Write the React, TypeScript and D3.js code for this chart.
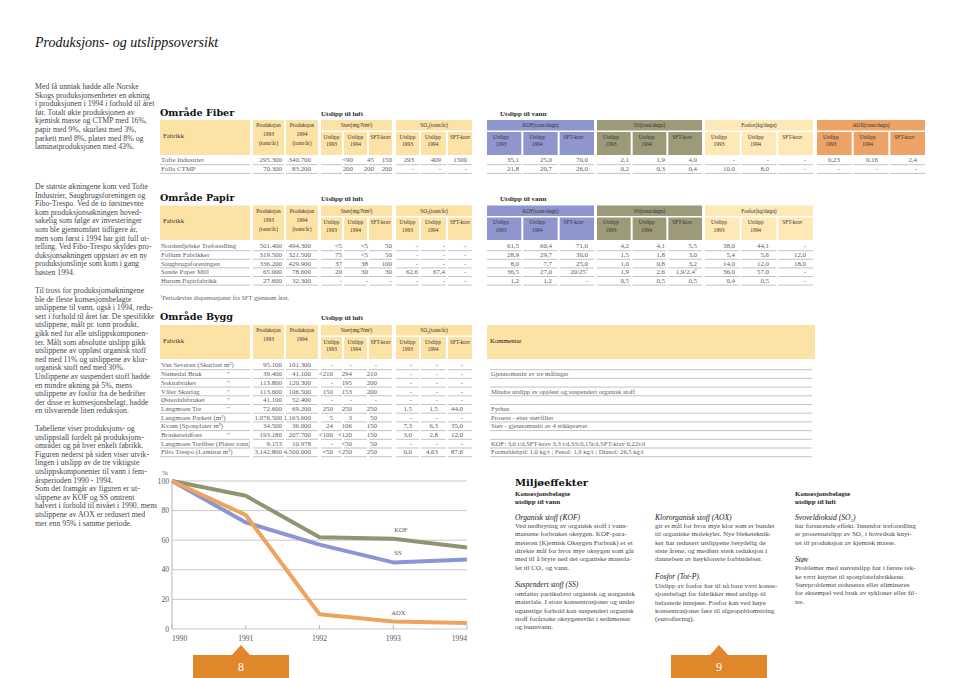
import React from 'react';
import * as d3 from 'd3';

// ---------------- line chart data ----------------
const years = [1990, 1991, 1992, 1993, 1994];
const kofValues = [100, 90, 62, 61, 55];
const ssValues = [100, 72, 57, 45, 47];
const aoxValues = [100, 77, 10, 5, 4];
const yTickValues = [0, 20, 40, 60, 80, 100];
const seriesNames = ['KOF', 'SS', 'AOX'];

// ---------------- table labels ----------------
const airGroupLabels = ['Støv(mg/Nm³)', 'SO₂(tonn/år)'];
const subHeaderLabels = [['Utslipp', '1993'], ['Utslipp', '1994'], ['SFT-krav']];
const waterGroupLabels = ['KOF(tonn/døgn)', 'SS(tonn/døgn)', 'Fosfor(kg/døgn)', 'AOX(tonn/døgn)'];

// ---------------- Område Fiber ----------------
const fiberFactories = ['Tofte Industrier', 'Folla CTMP'];
const fiberProduction = [['295.300', '340.700'], ['70.300', '83.200']];
const fiberAir = [
  ['<90', '45', '150', '293', '409', '1500'],
  ['200', '200', '200', '-', '-', '-'],
];
const fiberWater = [
  ['35,1', '25,0', '70,0', '2,1', '1,9', '4,0', '-', '-', '-', '0,23', '0,16', '2,4'],
  ['21,8', '20,7', '26,0', '0,2', '0,3', '0,4', '10,0', '8,0', '-', '-', '-', '-'],
];

// ---------------- Område Papir ----------------
const paperFactories = ['Nordenfjelske Treforedling', 'Follum Fabrikker', 'Saugbrugsforeningen', 'Sande Paper Mill', 'Hurum Papirfabrikk'];
const paperProduction = [['501.400', '494.300'], ['319.500', '321.500'], ['336.200', '429.900'], ['65.000', '78.600'], ['27.600', '32.300']];
const paperAir = [
  ['<5', '<5', '50', '-', '-', '-'],
  ['75', '<5', '50', '-', '-', '-'],
  ['37', '38', '100', '-', '-', '-'],
  ['20', '30', '30', '62,6', '67,4', '-'],
  ['-', '-', '-', '-', '-', '-'],
];
const paperWater = [
  ['61,5', '60,4', '71,0', '4,2', '4,1', '5,5', '38,0', '44,1', '-'],
  ['28,9', '29,7', '30,0', '1,5', '1,8', '3,0', '5,4', '5,6', '12,0'],
  ['8,0', '7,7', '25,0', '1,0', '0,8', '3,2', '14,0', '12,0', '18,0'],
  ['36,5', '27,0', '20/25¹', '1,9', '2,6', '1,9/2,4¹', '36,0', '57,0', '-'],
  ['1,2', '1,2', '-', '0,5', '0,5', '0,5', '0,4', '0,5', '-'],
];
const paperFootnote = '¹Periodevise dispensasjoner fra SFT gjennom året.';

// ---------------- Område Bygg ----------------
const buildFactories = [
  'Van Severen (Skurlast m³)', 'Numedal Bruk', 'Soknabruket', 'Våler Skurlag', 'Østerdalsbruket', 'Langmoen Tre',
  'Langmoen Parkett (m²)', 'Kvam (Sponplater m³)', 'Braskereidfoss', 'Langmoen Trefiber (Plater tonn)', 'Fibo Trespo (Laminat m²)',
];
const buildDitto = [false, true, true, true, true, true, false, false, true, false, false];
const buildProduction = [
  ['95.100', '101.300'], ['39.400', '41.100'], ['113.800', '120.300'], ['113.600', '106.500'], ['41.100', '52.400'],
  ['72.600', '69.200'], ['1.076.500', '1.163.600'], ['34.500', '36.000'], ['193.180', '207.700'], ['9.153', '10.978'],
  ['3.142.800', '4.500.000'],
];
const buildAir = [
  ['-', '-', '-', '-', '-', '-'],
  ['<210', '294', '210', '-', '-', '-'],
  ['-', '195', '200', '-', '-', '-'],
  ['150', '153', '200', '-', '-', '-'],
  ['-', '-', '-', '-', '-', '-'],
  ['250', '250', '250', '1,5', '1,5', '44,0'],
  ['5', '3', '50', '-', '-', '-'],
  ['24', '106', '150', '7,3', '6,3', '35,0'],
  ['<100', '<120', '150', '3,0', '2,8', '12,0'],
  ['-', '<50', '50', '-', '-', '-'],
  ['<50', '<250', '250', '0,0', '4,63', '87,6'],
];
const buildComments = [
  '', 'Gjennomsnitt av tre målinger', '', 'Mindre utslipp av oppløst og suspendert organisk stoff', '',
  'Fyrhus', 'Prosess - etter støvfilter', 'Støv - gjennomsnitt av 4 stikkprøver', '',
  'KOF: 3,0 t/d,SFT-krav 3,3 t/d,SS:0,15t/d,SFT-krav 0,22t/d', 'Formaldehyd: 1,0 kg/t ; Fenol: 1,9 kg/t ; Dianol: 26,5 kg/t',
];

// ---------------- running text ----------------
const leftParagraphs = [
  ['Med få unntak hadde alle Norske', 'Skogs produksjonsenheter en økning', 'i produksjonen i 1994 i forhold til året',
    'før. Totalt økte produksjonen av', 'kjemisk masse og CTMP med 16%,', 'papir med 9%, skurlast med 3%,',
    'parkett med 8%, plater med 8% og', 'laminatproduksjonen med 43%.'],
  ['De største økningene kom ved Tofte', 'Industrier, Saugbrugsforeningen og', 'Fibo-Trespo. Ved de to førstnevnte',
    'kom produksjonsøkningen hoved-', 'sakelig som følge av investeringer', 'som ble gjennomført tidligere år,',
    'men som først i 1994 har gitt full ut-', 'telling. Ved Fibo-Trespo skyldes pro-', 'duksjonsøkningen oppstart av en ny',
    'produksjonslinje som kom i gang', 'høsten 1994.'],
  ['Til tross for produksjonsøkningene', 'ble de fleste konsesjonsbelagte', 'utslippene til vann, også i 1994, redu-',
    'sert i forhold til året før. De spesifikke', 'utslippene, målt pr. tonn produkt,', 'gikk ned for alle utslippskomponen-',
    'ter. Målt som absolutte utslipp gikk', 'utslippene av oppløst organisk stoff', 'ned med 11% og utslippene av klor-',
    'organisk stoff ned med 30%.', 'Utslippene av suspendert stoff hadde', 'en mindre økning på 5%, mens',
    'utslippene av fosfor fra de bedrifter', 'der disse er konsesjonsbelagt, hadde', 'en tilsvarende liten reduksjon.'],
  ['Tabellene viser produksjons- og', 'utslippstall fordelt på produksjons-', 'områder og på hver enkelt fabrikk.',
    'Figuren nederst på siden viser utvik-', 'lingen i utslipp av de tre viktigste', 'utslippskomponenter til vann i fem-',
    'årsperioden 1990 - 1994.', 'Som det framgår av figuren er ut-', 'slippene av KOF og SS omtrent',
    'halvert i forhold til nivået i 1990, mens', 'utslippene av AOX er redusert med', 'mer enn 95% i samme periode.'],
];
const kofText = ['Ved nedbryting av organisk stoff i vann-', 'massene forbrukes oksygen. KOF-para-', 'meteren (Kjemisk Oksygen Forbruk) er et',
  'direkte mål for hvor mye oksygen som går', 'med til å bryte ned det organiske materia-', 'let til CO₂ og vann.'];
const ssText = ['omfatter partikulært organisk og uorganisk', 'materiale. I store konsentrasjoner og under', 'ugunstige forhold kan suspendert organisk',
  'stoff forårsake oksygensvikt i sedimenter', 'og bunnvann.'];
const aoxText = ['gir et mål for hvor mye klor som er bundet', 'til organiske molekyler. Nye bleketeknik-', 'ker har redusert utslippene betydelig de',
  'siste årene, og medført sterk reduksjon i', 'dannelsen av høyklorerte forbindelser.'];
const fosforText = ['Utslipp av fosfor har til nå bare vært konse-', 'sjonsbelagt for fabrikker med utslipp til', 'belastede innsjøer. Fosfor kan ved høye',
  'konsentrasjoner føre til algeoppblomstring', '(eutrofiering).'];
const so2Text = ['har forsurende effekt. Innenfor treforedling', 'er prosessutslipp av SO₂ i hovedsak knyt-', 'tet til produksjon av kjemisk masse.'];
const stovText = ['Problemer med støvutslipp har i første rek-', 'ke vært knyttet til sponplatefabrikkene.', 'Støvproblemet reduseres eller elimineres',
  'for eksempel ved bruk av sykloner eller fil-', 'tre.'];

// ---------------- style ----------------
const SERIF = "'Liberation Serif', 'Times New Roman', serif";
const SLAB = "'DejaVu Serif', serif";
const TXT = '#474747';
const VAL = '#5e5e5e';
const C_BEIGE = '#fde2a5';
const C_FOS = '#fee8b6';
const WATER_COLORS = ['#8f96cd', '#9c9a79', C_FOS, '#eea366'];
const LINE_COLORS = ['#8f9473', '#8b94d4', '#eea35e'];
const ORANGE = '#e0872b';

const FAB: [number, number] = [160, 250];
const PROD: [number, number][] = [[253, 284], [286, 318]];
const PROD_RIGHT = [282, 311];
const AIR: [number, number][] = [[321, 342], [344, 367], [369, 392], [396, 419], [421, 446], [448, 472]];
const AIR_GROUPS: [number, number][] = [[321, 392], [396, 472]];
const WATER_GROUPS: [number, number][] = [[487, 594], [597, 702], [705, 813], [817, 925]];
const WATER_RIGHT = [519, 552, 588, 629, 665, 697, 735, 769, 806, 840, 878, 917];

function waterCells(): [number, number][] {
  const out: [number, number][] = [];
  WATER_GROUPS.forEach(([a, b]) => {
    const w = (b - a - 4) / 3;
    for (let k = 0; k < 3; k++) out.push([a + k * (w + 2), a + k * (w + 2) + w]);
  });
  return out;
}
const WATER: [number, number][] = waterCells();

function Val({ x, y, s, anchor = 'end' }: { x: number; y: number; s: string; anchor?: string }) {
  const parts = s.split('¹');
  return (
    <text x={x} y={y} fontSize={6.9} fontFamily={SERIF} fill={VAL} textAnchor={anchor}>
      {parts.map((p, i) => (
        <React.Fragment key={i}>
          {p}
          {i < parts.length - 1 ? <tspan fontSize={4.3} dy={-3}>1</tspan> : null}
        </React.Fragment>
      ))}
    </text>
  );
}

function Label({ x, y, s, size = 5.4, anchor = 'middle' }: { x: number; y: number; s: string; size?: number; anchor?: string }) {
  const idx = s.indexOf('₂');
  if (idx >= 0) {
    return (
      <text x={x} y={y} fontSize={size} fontFamily={SERIF} fill="#333" textAnchor={anchor}>
        {s.slice(0, idx)}
        <tspan fontSize={size * 0.7} dy={1.5}>2</tspan>
        <tspan dy={-1.5}>{s.slice(idx + 1)}</tspan>
      </text>
    );
  }
  return (
    <text x={x} y={y} fontSize={size} fontFamily={SERIF} fill="#333" textAnchor={anchor}>{s}</text>
  );
}

type TableProps = {
  id: string;
  title: string;
  titleY: number;
  bandTop: number;
  bandH: number;
  rowsTop: number;
  step: number;
  factories: string[];
  ditto?: boolean[];
  production: string[][];
  air: string[][];
  airRight: number[];
  water?: string[][];
  prodUnits: boolean;
  comments?: string[];
};

function Table(p: TableProps) {
  const { bandTop, bandH, rowsTop, step } = p;
  const bandBottom = bandTop + bandH;
  const subTop = bandTop + 12;
  const nWater = p.water ? p.water[0].length / 3 : 0;
  const prodLines = p.prodUnits ? ['Produksjon', '1993', '(tonn/år)'] : ['Produksjon', '1993'];
  const lineColor = '#a8a8a8';
  return (
    <g>
      <text x={160} y={p.titleY} fontSize={9.6} fontWeight="bold" fontFamily={SLAB} fill="#111">{p.title}</text>
      <text x={321} y={p.titleY} fontSize={7} fontWeight="bold" fontFamily={SERIF} fill="#2a2a2a">Utslipp til luft</text>
      {p.water && <text x={500} y={p.titleY} fontSize={7} fontWeight="bold" fontFamily={SERIF} fill="#2a2a2a">Utslipp til vann</text>}

      <rect x={FAB[0]} y={bandTop} width={FAB[1] - FAB[0]} height={bandH} fill={C_BEIGE} />
      <text x={163} y={bandTop + 17.5} fontSize={6.8} fontFamily={SERIF} fill="#333">Fabrikk</text>
      {PROD.map(([a, b], k) => (
        <g key={k}>
          <rect x={a} y={bandTop} width={b - a} height={bandH} fill={C_BEIGE} />
          {prodLines.map((l, j) => (
            <Label key={j} x={(a + b) / 2} y={bandTop + 7 + j * 9} s={j === 1 ? String(1993 + k) : l} />
          ))}
        </g>
      ))}
      {AIR_GROUPS.map(([a, b], g) => (
        <g key={g}>
          <rect x={a} y={bandTop} width={b - a} height={10.5} fill={C_BEIGE} />
          <Label x={(a + b) / 2} y={bandTop + 7.2} s={airGroupLabels[g]} />
        </g>
      ))}
      {AIR.map(([a, b], k) => {
        const lab = subHeaderLabels[k % 3];
        const cx = a + Math.min((b - a) / 2, 12);
        return (
          <g key={k}>
            <rect x={a} y={subTop} width={b - a} height={bandBottom - subTop} fill={C_BEIGE} />
            <Label x={cx} y={subTop + 6.8} s={lab[0]} />
            {lab[1] && <Label x={cx} y={subTop + 14.3} s={lab[1]} />}
          </g>
        );
      })}
      {p.water && WATER_GROUPS.slice(0, nWater).map(([a, b], g) => (
        <g key={g}>
          <rect x={a} y={bandTop} width={b - a} height={10.5} fill={WATER_COLORS[g]} />
          <Label x={(a + b) / 2} y={bandTop + 7.2} s={waterGroupLabels[g]} />
        </g>
      ))}
      {p.water && WATER.slice(0, nWater * 3).map(([a, b], k) => {
        const lab = subHeaderLabels[k % 3];
        const cx = a + Math.min((b - a) / 2, 14);
        return (
          <g key={k}>
            <rect x={a} y={subTop} width={b - a} height={bandBottom - subTop} fill={WATER_COLORS[Math.floor(k / 3)]} />
            <Label x={cx} y={subTop + 6.8} s={lab[0]} />
            {lab[1] && <Label x={cx} y={subTop + 14.3} s={lab[1]} />}
          </g>
        );
      })}
      {p.comments && (
        <g>
          <rect x={487} y={bandTop} width={328} height={bandH} fill={C_BEIGE} />
          <text x={490} y={bandTop + 17.5} fontSize={6.6} fontFamily={SERIF} fill="#111">Kommentar</text>
        </g>
      )}

      <clipPath id={`clip-${p.id}`}>
        <rect x={FAB[0]} y={rowsTop - 2} width={FAB[1] - FAB[0]} height={p.factories.length * step + 4} />
      </clipPath>
      {p.factories.map((name, i) => {
        const top = rowsTop + i * step;
        const base = top + 6.4;
        const ly = top + 8.7;
        return (
          <g key={i}>
            <text x={161} y={base} fontSize={6.9} fontFamily={SERIF} fill={VAL} clipPath={`url(#clip-${p.id})`}>{name}</text>
            {p.ditto && p.ditto[i] && <text x={227} y={base} fontSize={6.9} fontFamily={SERIF} fill={VAL}>"</text>}
            <line x1={FAB[0]} x2={FAB[1]} y1={ly} y2={ly} stroke={lineColor} strokeWidth={0.7} />
            {PROD.map(([a, b], k) => (
              <g key={k}>
                <line x1={a} x2={b} y1={ly} y2={ly} stroke={lineColor} strokeWidth={0.7} />
                <Val x={PROD_RIGHT[k]} y={base} s={p.production[i][k]} />
              </g>
            ))}
            {AIR.map(([a, b], k) => (
              <g key={k}>
                <line x1={a} x2={b} y1={ly} y2={ly} stroke={lineColor} strokeWidth={0.7} />
                <Val x={p.airRight[k]} y={base} s={p.air[i][k]} />
              </g>
            ))}
            {p.water && WATER.slice(0, nWater * 3).map(([a, b], k) => (
              <g key={k}>
                <line x1={a} x2={b} y1={ly} y2={ly} stroke={lineColor} strokeWidth={0.7} />
                <Val x={WATER_RIGHT[k]} y={base} s={p.water![i][k]} />
              </g>
            ))}
            {p.comments && (
              <g>
                <line x1={490} x2={812} y1={ly} y2={ly} stroke={lineColor} strokeWidth={0.7} />
                <text x={491} y={base} fontSize={6.6} fontFamily={SERIF} fill={VAL}>{p.comments[i]}</text>
              </g>
            )}
          </g>
        );
      })}
    </g>
  );
}

function Para({ x, y, lines, size, step, fill = TXT }: { x: number; y: number; lines: string[]; size: number; step: number; fill?: string }) {
  return (
    <text fontSize={size} fontFamily={SERIF} fill={fill}>
      {lines.map((l, i) => (
        <tspan key={i} x={x} y={y + i * step}>{l}</tspan>
      ))}
    </text>
  );
}

function Chart() {
  const x = d3.scaleLinear().domain([1990, 1994]).range([172, 467]);
  const y = d3.scaleLinear().domain([0, 100]).range([629, 481]);
  const series = [kofValues, ssValues, aoxValues];
  const line = d3.line<number>().x((_, i) => x(years[i])).y((d) => y(d));
  return (
    <g>
      <text x={162} y={475} fontSize={7} fontFamily={SERIF} fill="#555">%</text>
      {yTickValues.map((t) => (
        <g key={t}>
          <line x1={x(1990)} x2={x(1994)} y1={y(t)} y2={y(t)} stroke="#c9c9c9" strokeWidth={1} />
          <text x={169} y={y(t) + 2.5} fontSize={7.6} fontFamily={SERIF} fill="#555" textAnchor="end">{t}</text>
        </g>
      ))}
      <line x1={x(1990)} x2={x(1990)} y1={y(100)} y2={y(0)} stroke="#b5b5b5" strokeWidth={1} />
      {years.map((yr, i) => (
        <g key={yr}>
          <line x1={x(yr)} x2={x(yr)} y1={y(0)} y2={y(0) - 4} stroke="#b5b5b5" strokeWidth={1} />
          <text x={x(yr)} y={641} fontSize={7.6} fontFamily={SERIF} fill="#555"
            textAnchor={i === 0 ? 'start' : i === years.length - 1 ? 'end' : 'middle'}>{yr}</text>
        </g>
      ))}
      {series.map((s, k) => (
        <path key={k} d={line(s) || ''} fill="none" stroke={LINE_COLORS[k]} strokeWidth={4} strokeLinejoin="round" />
      ))}
      {series.map((s, k) => (
        <text key={k} x={x(1993) + (k === 2 ? -2 : 1)} y={y(s[3]) - 7} fontSize={6.6} fontFamily={SERIF} fill="#555">{seriesNames[k]}</text>
      ))}
    </g>
  );
}

function PageNo({ cx, n }: { cx: number; n: string }) {
  return (
    <g>
      <path d={`M${cx - 9},655 L${cx},645 L${cx + 9},655 Z`} fill={ORANGE} />
      <rect x={cx - 48} y={655} width={96} height={23} fill={ORANGE} />
      <text x={cx} y={671} fontSize={12} fontFamily={SERIF} fill="#fff" textAnchor="middle">{n}</text>
    </g>
  );
}

export default function App() {
  const STEP = 8.6;
  const leftStarts = [89, 189, 293, 431];
  const RS = 7;
  return (
    <div style={{ position: 'absolute', left: 0, top: 0, width: 959, height: 678, background: '#fff' }}>
      <svg width={959} height={678} viewBox="0 0 959 678" style={{ display: 'block' }}>
        <rect width={959} height={678} fill="#fff" />
        <text x={35} y={47} fontSize={14} fontStyle="italic" fontFamily={SERIF} fill="#111">Produksjons- og utslippsoversikt</text>

        {leftParagraphs.map((lines, i) => (
          <Para key={i} x={35} y={leftStarts[i]} lines={lines} size={7.8} step={STEP} />
        ))}

        <Table id="fiber" title="Område Fiber" titleY={116} bandTop={120} bandH={35} rowsTop={156} step={8.7}
          factories={fiberFactories} production={fiberProduction} air={fiberAir} airRight={[353, 374, 392, 414, 441, 467]}
          water={fiberWater} prodUnits />
        <Table id="paper" title="Område Papir" titleY={201} bandTop={205.5} bandH={34.5} rowsTop={242} step={8.6}
          factories={paperFactories} production={paperProduction} air={paperAir} airRight={[342, 368, 392, 418, 445, 466]}
          water={paperWater} prodUnits />
        <text x={160} y={300} fontSize={6.4} fontFamily={SERIF} fill={VAL}>
          <tspan fontSize={4.3} dy={-2.5}>1</tspan>
          <tspan dy={2.5}>{paperFootnote.slice(1)}</tspan>
        </text>
        <Table id="build" title="Område Bygg" titleY={320} bandTop={325} bandH={34} rowsTop={361} step={8.7}
          factories={buildFactories} ditto={buildDitto} production={buildProduction} air={buildAir}
          airRight={[333, 352, 377, 412, 438, 463]} prodUnits={false} comments={buildComments} />

        <Chart />

        <text x={515} y={486} fontSize={10} fontWeight="bold" fontFamily={SLAB} fill="#111">Miljøeffekter</text>
        <text fontSize={7} fontWeight="bold" fontFamily={SERIF} fill="#222">
          <tspan x={515} y={495.5}>Konsesjonsbelagte</tspan>
          <tspan x={515} y={503.8}>utslipp til vann</tspan>
          <tspan x={795} y={495.5}>Konsesjonsbelagte</tspan>
          <tspan x={795} y={503.8}>utslipp til luft</tspan>
        </text>
        <text fontSize={7.6} fontStyle="italic" fontFamily={SERIF} fill="#222">
          <tspan x={515} y={520}>Organisk stoff (KOF)</tspan>
          <tspan x={515} y={587}>Suspendert stoff (SS)</tspan>
          <tspan x={655} y={520}>Klororganisk stoff (AOX)</tspan>
          <tspan x={655} y={579}>Fosfor (Tot-P).</tspan>
          <tspan x={795} y={520}>Svoveldioksid (SO₂)</tspan>
          <tspan x={795} y={562}>Støv</tspan>
        </text>
        <Para x={515} y={527.7} lines={kofText} size={RS} step={8.4} />
        <Para x={515} y={595.7} lines={ssText} size={RS} step={8.4} />
        <Para x={655} y={527.7} lines={aoxText} size={RS} step={8.4} />
        <Para x={655} y={587.7} lines={fosforText} size={RS} step={8.4} />
        <Para x={795} y={527.7} lines={so2Text} size={RS} step={8.4} />
        <Para x={795} y={570.2} lines={stovText} size={RS} step={8.4} />

        <PageNo cx={241} n="8" />
        <PageNo cx={719} n="9" />
      </svg>
    </div>
  );
}
